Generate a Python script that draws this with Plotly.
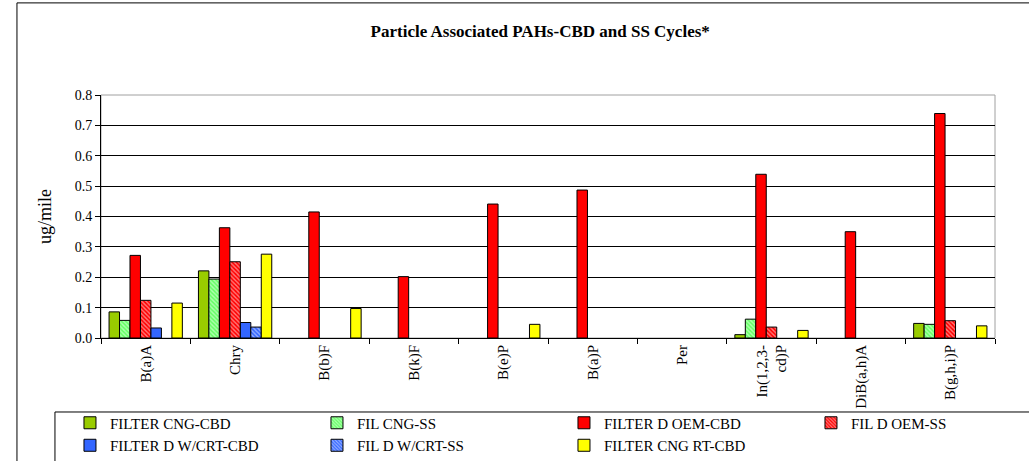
import plotly.graph_objects as go

categories = ["B(a)A", "Chry", "B(b)F", "B(k)F", "B(e)P", "B(a)P", "Per",
              "In(1,2,3-<br>cd)P", "DiB(a,h)A", "B(g,h,i)P"]

filter_cng_cbd = [0.086, 0.221, None, None, None, None, None, 0.011, None, 0.048]
fil_cng_ss = [0.058, 0.194, None, None, None, None, None, 0.062, None, 0.045]
filter_d_oem_cbd = [0.272, 0.363, 0.415, 0.202, 0.441, 0.487, None, 0.539, 0.350, 0.739]
fil_d_oem_ss = [0.124, 0.251, None, None, None, None, None, 0.036, None, 0.057]
filter_d_crt_cbd = [0.033, 0.051, None, None, None, None, None, None, None, None]
fil_d_crt_ss = [None, 0.036, None, None, None, None, None, None, None, None]
filter_cng_rt_cbd = [0.115, 0.276, 0.097, None, 0.045, None, None, 0.025, None, 0.040]

series = [
    ("FILTER CNG-CBD", filter_cng_cbd, "#99CC00", None),
    ("FIL CNG-SS", fil_cng_ss, "#66FF66", "\\"),
    ("FILTER D OEM-CBD", filter_d_oem_cbd, "#FF0000", None),
    ("FIL D OEM-SS", fil_d_oem_ss, "#FF0000", "\\"),
    ("FILTER D W/CRT-CBD", filter_d_crt_cbd, "#3366FF", None),
    ("FIL D W/CRT-SS", fil_d_crt_ss, "#3366FF", "\\"),
    ("FILTER CNG RT-CBD", filter_cng_rt_cbd, "#FFFF00", None),
]

serif = "Liberation Serif"

fig = go.Figure()
for name, vals, colour, hatch in series:
    marker = dict(color=colour, line=dict(color="black", width=1))
    if hatch:
        marker["pattern"] = dict(shape=hatch, fillmode="overlay", fgcolor="white",
                                 size=3, solidity=0.45)
    fig.add_trace(go.Bar(x=categories, y=vals, name=name, marker=marker))

# outer chart border, legend box, plot area border
fig.add_shape(type="rect", xref="paper", yref="paper", x0=-0.094, x1=1.2, y0=-0.7, y1=1.379,
              line=dict(color="black", width=1), layer="below")
fig.add_shape(type="rect", xref="paper", yref="paper", x0=-0.0515, x1=1.2, y0=-0.7, y1=-0.3045,
              line=dict(color="black", width=1), layer="below")
fig.add_shape(type="rect", xref="paper", yref="paper", x0=0, x1=1, y0=0, y1=1,
              line=dict(color="#A0A0A0", width=1), layer="below")

fig.update_layout(
    width=1029, height=461,
    margin=dict(l=101, r=34, t=95, b=123, autoexpand=False),
    barmode="group", bargap=0.18, bargroupgap=0,
    plot_bgcolor="white", paper_bgcolor="white",
    font=dict(family=serif, color="black"),
    title=dict(text="<b>Particle Associated PAHs-CBD and SS Cycles*</b>",
               font=dict(family=serif, size=17, color="black"),
               x=0.525, xanchor="center", y=0.933, yanchor="middle"),
    xaxis=dict(tickangle=-90, tickfont=dict(size=15), tickson="boundaries",
               ticks="outside", ticklen=5, tickcolor="black", automargin=False,
               showline=True, linecolor="black", showgrid=False),
    yaxis=dict(range=[0, 0.8], dtick=0.1, tickformat=".1f", automargin=False,
               tickfont=dict(size=14), ticks="outside", ticklen=5, tickcolor="black",
               showline=True, linecolor="black", gridcolor="black", gridwidth=1,
               zeroline=False,
               title=dict(text="ug/mile", font=dict(size=18), standoff=18)),
    legend=dict(orientation="h", x=-0.0347, y=-0.282, xanchor="left", yanchor="top",
                entrywidth=202, entrywidthmode="pixels",
                font=dict(size=15, family=serif), bgcolor="rgba(0,0,0,0)",
                tracegroupgap=0, traceorder="normal"),
)

fig.write_html("out.html", config={"displayModeBar": False},
               post_script="document.body.style.margin='0';")
